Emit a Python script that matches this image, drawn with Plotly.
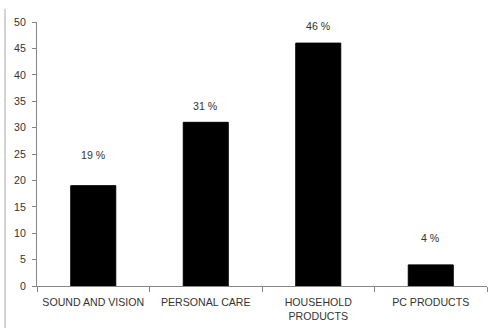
import plotly.graph_objects as go

categories = ["SOUND AND VISION", "PERSONAL CARE", "HOUSEHOLD<br>PRODUCTS", "PC PRODUCTS"]
values = [19, 31, 46, 4]
labels = ["19 %", "31 %", "46 %", "4 %"]
label_shift = [31, 16, 17, 27]  # pixel offset of label above bar top
y_ticks = [0, 5, 10, 15, 20, 25, 30, 35, 40, 45, 50]

FONT = dict(family="Liberation Sans, Arial, sans-serif", size=10.6, color="#333333")
AXIS = "#868686"

fig = go.Figure()
fig.add_trace(go.Bar(x=categories, y=values, marker=dict(color="black", line=dict(color="black", width=1)),
                     width=0.4, hoverinfo="skip"))

for c, v, t, s in zip(categories, values, labels, label_shift):
    fig.add_annotation(x=c, y=v, text=t, showarrow=False, yanchor="middle", yshift=s, font=FONT)

fig.add_shape(type="line", xref="paper", yref="paper", x0=-0.0711, x1=-0.0711, y0=1.05, y1=-0.16,
              line=dict(color="#a6a6a6", width=1))

fig.update_layout(
    width=497, height=328,
    margin=dict(l=37, r=10, t=22, b=42, autoexpand=False),
    paper_bgcolor="white", plot_bgcolor="white",
    showlegend=False, font=FONT,
    xaxis=dict(type="category", showline=True, linecolor=AXIS, linewidth=1, ticks="outside",
               tickson="boundaries", ticklen=5, tickcolor=AXIS, showgrid=False, tickfont=FONT,
               range=[-0.5, 3.5], automargin=False, ticklabelstandoff=6),
    yaxis=dict(range=[0, 50], tickvals=y_ticks, showline=True, linecolor=AXIS, linewidth=1,
               ticks="outside", ticklen=4, tickcolor=AXIS, showgrid=False, zeroline=False,
               tickfont=FONT, automargin=False, ticklabelstandoff=4),
)

fig.write_html("out.html", post_script="document.body.style.margin='0';",
               config={"displayModeBar": False, "staticPlot": True})
